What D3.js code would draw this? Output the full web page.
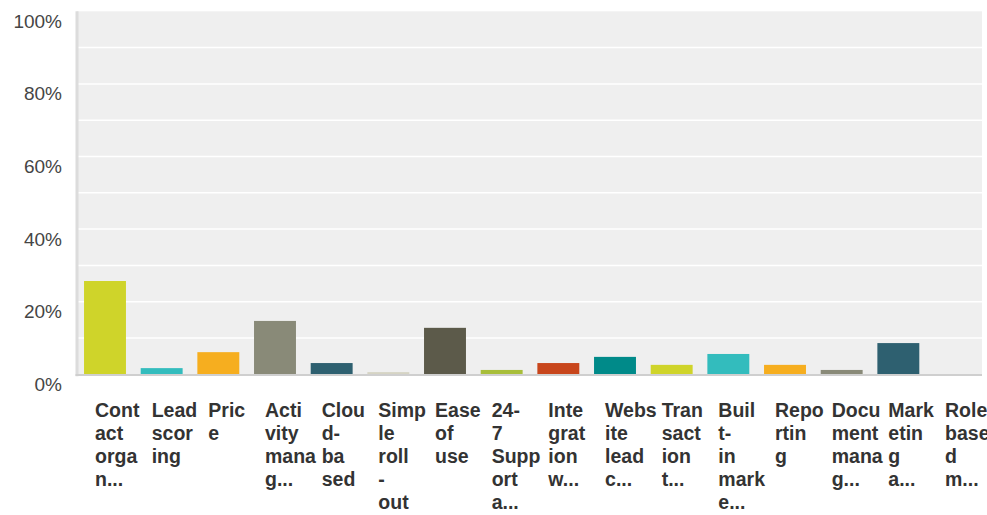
<!DOCTYPE html>
<html>
<head>
<meta charset="utf-8">
<script src="https://cdn.jsdelivr.net/npm/d3@7"></script>
<style>
  html, body { margin: 0; padding: 0; background: #fff; }
  svg { display: block; }
</style>
</head>
<body>
<svg id="chart" width="987" height="515"></svg>
<script>
// ---- data ----
const categories = [
  "Contact organ...", "Lead scoring", "Price", "Activity manag...", "Cloud-based",
  "Simple roll-out", "Ease of use", "24-7 Support a...", "Integration w...",
  "Website lead c...", "Transaction t...", "Built-in marke...", "Reporting",
  "Document manag...", "Marketing a...", "Role based m..."
];
// label lines as displayed (wrapped)
const labelLines = [
  ["Cont", "act", "orga", "n..."],
  ["Lead", "scor", "ing"],
  ["Pric", "e"],
  ["Acti", "vity", "mana", "g..."],
  ["Clou", "d-", "ba", "sed"],
  ["Simp", "le", "roll", "-", "out"],
  ["Ease", "of", "use"],
  ["24-", "7", "Supp", "ort", "a..."],
  ["Inte", "grat", "ion", "w..."],
  ["Webs", "ite", "lead", "c..."],
  ["Tran", "sact", "ion", "t..."],
  ["Buil", "t-", "in", "mark", "e..."],
  ["Repo", "rtin", "g"],
  ["Docu", "ment", "mana", "g..."],
  ["Mark", "etin", "g", "a..."],
  ["Role", "base", "d", "m..."]
];
const values = [25.7, 1.7, 6.1, 14.7, 3.1, 0.6, 12.8, 1.2, 3.1, 4.8, 2.6, 5.6, 2.6, 1.2, 8.6, 0];
const colors = ["#cfd42a", "#33bcbd", "#f6ae1f", "#898a78", "#2e6070", "#d6d4c4", "#5c5a4a",
                "#a8be3a", "#c8461c", "#008a89", "#cfd42a", "#33bcbd", "#f6ae1f", "#898a78", "#2e6070", "#cfd42a"];
const yTicks = [0, 20, 40, 60, 80, 100];
const yGrid = [10, 20, 30, 40, 50, 60, 70, 80, 90];

// ---- layout ----
const svg = d3.select("#chart");
const plotL = 77, plotR = 982, plotT = 11.3, plotB = 374.3;

const y = d3.scaleLinear().domain([0, 100]).range([plotB, plotT]);
const x = d3.scaleBand().domain(categories).range([plotL, 983])
  .paddingInner(0.26).paddingOuter(0.124);

// background
svg.append("rect")
  .attr("x", plotL).attr("y", plotT)
  .attr("width", plotR - plotL).attr("height", plotB - plotT)
  .attr("fill", "#efefef");

// gridlines
svg.append("g").selectAll("line").data(yGrid).join("line")
  .attr("x1", plotL + 1).attr("x2", plotR)
  .attr("y1", d => y(d)).attr("y2", d => y(d))
  .attr("stroke", "#ffffff").attr("stroke-width", 1.5);

// left border
svg.append("line")
  .attr("x1", plotL).attr("x2", plotL)
  .attr("y1", plotT).attr("y2", plotB + 2)
  .attr("stroke", "#dcdcdc").attr("stroke-width", 3);

// bars
svg.append("g").selectAll("rect").data(values).join("rect")
  .attr("x", (d, i) => x(categories[i]))
  .attr("width", x.bandwidth())
  .attr("y", d => y(d))
  .attr("height", d => y(0) - y(d))
  .attr("fill", (d, i) => colors[i]);

// baseline
svg.append("line")
  .attr("x1", plotL - 1.5).attr("x2", plotR)
  .attr("y1", plotB + 0.8).attr("y2", plotB + 0.8)
  .attr("stroke", "#cfcfcf").attr("stroke-width", 2);

// y tick labels
svg.append("g").selectAll("text").data(yTicks).join("text")
  .attr("x", 62)
  .attr("y", d => y(d) + 16.5)
  .attr("text-anchor", "end")
  .attr("font-family", "'Liberation Sans', Arial, Helvetica, sans-serif")
  .attr("font-size", 19)
  .attr("fill", "#454545")
  .text(d => d + "%");

// x labels
const lab = svg.append("g");
categories.forEach((c, i) => {
  const t = lab.append("text")
    .attr("x", x(c) + 11)
    .attr("y", 416.5)
    .attr("font-family", "'Liberation Sans', Arial, Helvetica, sans-serif")
    .attr("font-size", 19.5)
    .attr("font-weight", "bold")
    .attr("fill", "#333");
  labelLines[i].forEach((ln, j) => {
    t.append("tspan").attr("x", x(c) + 11).attr("dy", j === 0 ? 0 : 23).text(ln);
  });
});
</script>
</body>
</html>
